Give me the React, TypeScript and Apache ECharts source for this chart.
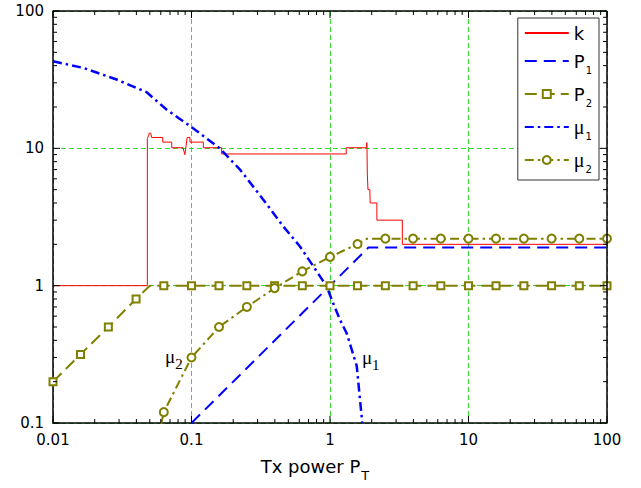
import React, { useEffect, useRef } from "react";
import * as echarts from "echarts";

// ---- data ----
const xMajorTicks = [0.01, 0.1, 1, 10, 100];
const yMajorTicks = [0.1, 1, 10, 100];

// k : red step curve
const kData: [number, number][] = [
  [0.01, 1], [0.048, 1], [0.048, 11.8], [0.049, 12.4], [0.0495, 12.9], [0.0508, 12.9],
  [0.0515, 12.0], [0.062, 12.0], [0.062, 11.1], [0.072, 11.1], [0.072, 10.1],
  [0.087, 10.1], [0.0895, 9.0], [0.0915, 10.5], [0.093, 12.0], [0.0975, 12.0],
  [0.0975, 11.1], [0.1217, 11.1], [0.1217, 10.1], [0.165, 10.1], [0.165, 9.1],
  [1.31, 9.1], [1.31, 10.1], [1.83, 10.1], [1.845, 11.0], [1.85, 10.0],
  [1.86, 6.5], [1.88, 5.0], [1.94, 5.0], [1.95, 4.0], [2.18, 4.0], [2.18, 3.0],
  [3.33, 3.0], [3.33, 2.0], [100, 2.0],
];

// P1 : blue dashed
const p1Data: [number, number][] = [[0.1, 0.1], [1.9, 1.9], [100, 1.9]];

// P2 : olive dashed with squares ([x, y, marker?])
const p2Data: [number, number, number][] = [
  [0.01, 0.2, 1], [0.0158, 0.316, 1], [0.0251, 0.5, 1], [0.0398, 0.8, 1], [0.05, 1, 0],
  [0.0631, 1, 1], [0.1, 1, 1], [0.158, 1, 1], [0.251, 1, 1], [0.398, 1, 1], [0.631, 1, 1],
  [1, 1, 1], [1.58, 1, 1], [2.51, 1, 1], [3.98, 1, 1], [6.31, 1, 1], [10, 1, 1],
  [15.8, 1, 1], [25.1, 1, 1], [39.8, 1, 1], [63.1, 1, 1], [100, 1, 1],
];

// mu1 : blue dash-dot
const mu1Data: [number, number][] = [
  [0.01, 43], [0.0166, 38.5], [0.0288, 31.7], [0.0475, 25.6], [0.0663, 19.1],
  [0.098, 14.5], [0.16, 10], [0.224, 7.0], [0.33, 4.23], [0.46, 2.7], [0.607, 1.93],
  [0.759, 1.38], [0.946, 0.99], [1.03, 0.79], [1.18, 0.565], [1.32, 0.45],
  [1.56, 0.26], [1.71, 0.1],
];

// mu2 : olive dash-dot with circles ([x, y, marker?])
const mu2Data: [number, number, number][] = [
  [0.0603, 0.098, 0], [0.0631, 0.12, 1], [0.1, 0.3, 1], [0.158, 0.5, 1], [0.251, 0.7, 1],
  [0.398, 0.96, 1], [0.631, 1.27, 1], [1, 1.62, 1], [1.58, 2.01, 1], [1.85, 2.2, 0],
  [2.51, 2.2, 1], [3.98, 2.2, 1], [6.31, 2.2, 1], [10, 2.2, 1], [15.8, 2.2, 1],
  [25.1, 2.2, 1], [39.8, 2.2, 1], [63.1, 2.2, 1], [100, 2.2, 1],
];

const legendNames = ["k", "P1", "P2", "μ1", "μ2"];
const legendWithMarker = ["P2", "μ2"];

// ---- styles ----
const RED = "#ff0000";
const BLUE = "#0000ff";
const OLIVE = "#808000";
const GRID_GREEN = "#33dd33";
const SANS = "DejaVu Sans";
const SERIF = "Liberation Serif";

function minorTicks(majors: number[]): number[] {
  const out: number[] = [];
  for (let i = 0; i < majors.length - 1; i++) {
    for (let m = 2; m <= 9; m++) out.push(majors[i] * m);
  }
  return out;
}

function fmtLog(v: number): string {
  const e = Math.round(Math.log10(v));
  return e < 0 ? Math.pow(10, e).toFixed(-e) : String(Math.round(Math.pow(10, e)));
}

function markerData(d: [number, number, number][]) {
  return d.map(([x, y, m]) => (m ? { value: [x, y] } : { value: [x, y], symbol: "none" }));
}

export default function App() {
  const ref = useRef<HTMLDivElement>(null);

  useEffect(() => {
    if (!ref.current) return;
    const chart = echarts.init(ref.current, undefined, { renderer: "svg" });

    const tickData: number[][] = [];
    xMajorTicks.forEach((v) => tickData.push([v, 1, 0, 1]));
    minorTicks(xMajorTicks).forEach((v) => tickData.push([v, 1, 0, 0]));
    yMajorTicks.forEach((v) => tickData.push([1, v, 1, 1]));
    minorTicks(yMajorTicks).forEach((v) => tickData.push([1, v, 1, 0]));

    const rich = {
      a: { fontFamily: SANS, fontSize: 18, color: "#000", lineHeight: 22 },
      m: { fontFamily: SERIF, fontSize: 20, color: "#000", lineHeight: 22 },
      s: { fontFamily: SANS, fontSize: 10, color: "#000", lineHeight: 6, verticalAlign: "top", padding: [15, 0, 0, 1] },
    };

    chart.setOption({
      animation: false,
      backgroundColor: "#fff",
      grid: { left: 53, right: 34, top: 11, bottom: 65 },
      xAxis: {
        type: "log",
        logBase: 10,
        min: 0.01,
        max: 100,
        axisLine: { show: true, lineStyle: { color: "#000", width: 1.5 } },
        axisTick: { show: false },
        axisLabel: { formatter: fmtLog, fontFamily: SANS, fontSize: 15, color: "#000", margin: 9 },
        splitLine: { show: true, lineStyle: { color: GRID_GREEN, type: [5, 3], width: 1 } },
        name: "{a|Tx power P}{t|T}",
        nameLocation: "middle",
        nameGap: 31,
        nameTextStyle: {
          padding: [0, 30, 0, 0],
          rich: {
            a: { fontFamily: SANS, fontSize: 18, color: "#000", lineHeight: 24 },
            t: { fontFamily: SANS, fontSize: 13, color: "#000", lineHeight: 4, verticalAlign: "top", padding: [15, 0, 0, 1] },
          },
        },
      },
      yAxis: {
        type: "log",
        logBase: 10,
        min: 0.1,
        max: 100,
        axisLine: { show: true, lineStyle: { color: "#000", width: 1.5 } },
        axisTick: { show: false },
        axisLabel: { formatter: fmtLog, fontFamily: SANS, fontSize: 15, color: "#000", margin: 9 },
        splitLine: { show: true, lineStyle: { color: GRID_GREEN, type: [5, 3], width: 1 } },
      },
      legend: {
        data: legendNames.map((n) =>
          legendWithMarker.includes(n) ? { name: n } : { name: n, itemStyle: { opacity: 0 } }
        ),
        orient: "vertical",
        right: 42,
        top: 18,
        padding: [6, 7, 6, 6],
        itemWidth: 44,
        itemHeight: 10,
        itemGap: 8,
        backgroundColor: "#fff",
        borderColor: "#333",
        borderWidth: 1,
        borderRadius: 0,
        formatter: (name: string) => {
          if (name === "k") return "{a|k}";
          if (name[0] === "P") return `{a|P}{s|${name[1]}}`;
          return `{m|μ}{s|${name[1]}}`;
        },
        textStyle: { rich },
      },
      series: [
        {
          name: "k",
          type: "line",
          data: kData,
          symbol: "none",
          lineStyle: { color: RED, width: 1 },
          itemStyle: { color: RED },
          z: 3,
        },
        {
          name: "P1",
          type: "line",
          data: p1Data,
          symbol: "none",
          lineStyle: { color: BLUE, width: 2, type: [12, 7] },
          itemStyle: { color: BLUE },
          z: 3,
        },
        {
          name: "P2",
          type: "line",
          data: markerData(p2Data),
          symbol: "emptyRect",
          symbolSize: 7,
          lineStyle: { color: OLIVE, width: 2, type: [12, 6] },
          itemStyle: { color: OLIVE, borderWidth: 1.5 },
          z: 4,
        },
        {
          name: "μ1",
          type: "line",
          data: mu1Data,
          symbol: "none",
          lineStyle: { color: BLUE, width: 2.5, type: [9, 4, 2.5, 4] },
          itemStyle: { color: BLUE },
          z: 3,
        },
        {
          name: "μ2",
          type: "line",
          data: markerData(mu2Data),
          symbol: "emptyCircle",
          symbolSize: 8,
          lineStyle: { color: OLIVE, width: 2, type: [9, 4, 2.5, 4] },
          itemStyle: { color: OLIVE, borderWidth: 1.5 },
          z: 4,
        },
        {
          name: "ticks",
          type: "custom",
          data: tickData,
          encode: { x: 0, y: 1 },
          silent: true,
          z: 10,
          renderItem: (params: any, api: any) => {
            const cs = params.coordSys;
            const isY = api.value(2) === 1;
            const len = api.value(3) ? 7 : 4;
            const style = { stroke: "#000", lineWidth: 1 };
            if (!isY) {
              const px = api.coord([api.value(0), 1])[0];
              const b = cs.y + cs.height;
              return {
                type: "group",
                children: [
                  { type: "line", shape: { x1: px, y1: b, x2: px, y2: b - len }, style },
                  { type: "line", shape: { x1: px, y1: cs.y, x2: px, y2: cs.y + len }, style },
                ],
              };
            }
            const py = api.coord([1, api.value(1)])[1];
            const r = cs.x + cs.width;
            return {
              type: "group",
              children: [
                { type: "line", shape: { x1: cs.x, y1: py, x2: cs.x + len, y2: py }, style },
                { type: "line", shape: { x1: r, y1: py, x2: r - len, y2: py }, style },
              ],
            };
          },
        },
      ],
    });

    // Frame (top/right border) and in-plot annotations placed via the axes' scales
    const tl = chart.convertToPixel({ gridIndex: 0 }, [0.01, 100]) as number[];
    const br = chart.convertToPixel({ gridIndex: 0 }, [100, 0.1]) as number[];
    const mu2Pos = chart.convertToPixel({ gridIndex: 0 }, [0.0644, 0.304]) as number[];
    const mu1Pos = chart.convertToPixel({ gridIndex: 0 }, [1.70, 0.30]) as number[];
    const annRich = {
      m: { fontFamily: SERIF, fontSize: 19, fill: "#000", lineHeight: 22 },
      s: { fontFamily: SERIF, fontSize: 15, fill: "#000", lineHeight: 6, verticalAlign: "top", padding: [11, 0, 0, 0] },
    };
    chart.setOption({
      graphic: [
        {
          type: "line",
          shape: { x1: tl[0], y1: tl[1], x2: br[0], y2: tl[1] },
          style: { stroke: "#000", lineWidth: 1.5 },
          z: 20,
        },
        {
          type: "line",
          shape: { x1: br[0], y1: tl[1], x2: br[0], y2: br[1] },
          style: { stroke: "#000", lineWidth: 1.5 },
          z: 20,
        },
        {
          type: "text",
          x: mu2Pos[0],
          y: mu2Pos[1],
          style: { text: "{m|μ}{s|2}", rich: annRich, verticalAlign: "middle", align: "left" },
          z: 20,
        },
        {
          type: "text",
          x: mu1Pos[0],
          y: mu1Pos[1],
          style: { text: "{m|μ}{s|1}", rich: annRich, verticalAlign: "middle", align: "left" },
          z: 20,
        },
      ],
    });

    return () => chart.dispose();
  }, []);

  return <div ref={ref} style={{ width: 641, height: 488, position: "absolute", left: 0, top: 0 }} />;
}
